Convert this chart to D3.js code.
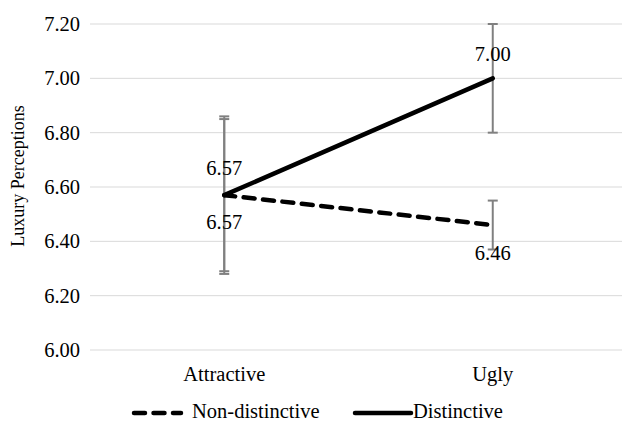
<!DOCTYPE html>
<html>
<head>
<meta charset="utf-8">
<script src="https://cdn.jsdelivr.net/npm/d3@7/dist/d3.min.js"></script>
<style>
  html, body { margin: 0; padding: 0; background: #fff; }
</style>
</head>
<body>
<svg id="chart" width="622" height="423"></svg>
<script>
// Category labels on the x axis
const categories = ["Attractive", "Ugly"];
// Mean luxury perceptions per series
const nonDistinctive = [6.57, 6.46];
const distinctive = [6.57, 7.00];
// Error bar half-widths per series
const nonDistinctiveErr = [0.28, 0.09];
const distinctiveErr = [0.29, 0.20];
// Y axis ticks
const yTicks = [6.0, 6.2, 6.4, 6.6, 6.8, 7.0, 7.2];

const FONT = "'Liberation Serif'";
const FS = 20.5;

// Label baseline offsets from each point (above for Distinctive, below for Non-distinctive)
const series = [
  { name: "Non-distinctive", values: nonDistinctive, err: nonDistinctiveErr, dash: "11,8.5", labelDy: [34, 35] },
  { name: "Distinctive", values: distinctive, err: distinctiveErr, dash: null, labelDy: [-20, -17] }
];

const svg = d3.select("#chart");
svg.append("rect").attr("width", 622).attr("height", 423).attr("fill", "#fff");

const x = d3.scaleBand().domain(categories).range([90, 627]).padding(0);
const y = d3.scaleLinear().domain([6.0, 7.2]).range([350, 24]);
const cx = c => x(c) + x.bandwidth() / 2;

// Horizontal gridlines
svg.append("g").selectAll("line").data(yTicks).join("line")
  .attr("x1", 90).attr("x2", 627)
  .attr("y1", d => y(d)).attr("y2", d => y(d))
  .attr("stroke", "#d9d9d9").attr("stroke-width", 1);

// Y axis tick labels
const yAxis = d3.axisLeft(y).tickValues(yTicks).tickFormat(d3.format(".2f")).tickSize(0).tickPadding(10);
const ya = svg.append("g").attr("transform", "translate(90,0)").call(yAxis)
  .attr("font-family", FONT).attr("font-size", FS);
ya.select(".domain").remove();
ya.selectAll("text").attr("font-family", FONT).attr("font-size", FS).attr("fill", "#000");

// X axis category labels
const xAxis = d3.axisBottom(x).tickSize(0);
const xa = svg.append("g").attr("transform", "translate(0,350)").call(xAxis)
  .attr("font-family", FONT).attr("font-size", FS);
xa.select(".domain").remove();
xa.selectAll("text").attr("font-family", FONT).attr("font-size", FS).attr("fill", "#000")
  .attr("dy", null).attr("y", 31);

// Y axis title
svg.append("text")
  .attr("transform", "translate(24,176) rotate(-90)")
  .attr("text-anchor", "middle")
  .attr("font-family", FONT).attr("font-size", 18).attr("fill", "#000")
  .text("Luxury Perceptions");

// Error bars
series.forEach(s => {
  const g = svg.append("g");
  categories.forEach((c, i) => {
    const v = s.values[i], e = s.err[i], px = cx(c);
    g.append("line").attr("x1", px).attr("x2", px)
      .attr("y1", y(v + e)).attr("y2", y(v - e))
      .attr("stroke", "#808080").attr("stroke-width", 2);
    [v + e, v - e].forEach(t => {
      g.append("line").attr("x1", px - 5).attr("x2", px + 5)
        .attr("y1", y(t)).attr("y2", y(t))
        .attr("stroke", "#808080").attr("stroke-width", 2);
    });
  });
});

// Series lines
const line = d3.line().x((d, i) => cx(categories[i])).y(d => y(d));
series.forEach(s => {
  svg.append("path").datum(s.values)
    .attr("d", line)
    .attr("fill", "none").attr("stroke", "#000").attr("stroke-width", 4.5)
    .attr("stroke-linecap", "round").attr("stroke-linejoin", "round")
    .attr("stroke-dasharray", s.dash);
});

// Data labels
series.forEach(s => {
  categories.forEach((c, i) => {
    svg.append("text")
      .attr("x", cx(c)).attr("y", y(s.values[i]) + s.labelDy[i])
      .attr("text-anchor", "middle")
      .attr("font-family", FONT).attr("font-size", FS).attr("fill", "#000")
      .text(d3.format(".2f")(s.values[i]));
  });
});

// Legend
const legend = [
  { name: "Non-distinctive", dash: "11,8.5", x0: 134, x1: 181, tx: 192 },
  { name: "Distinctive", dash: null, x0: 355, x1: 411, tx: 413 }
];
legend.forEach(l => {
  svg.append("line").attr("x1", l.x0).attr("x2", l.x1)
    .attr("y1", 413).attr("y2", 413)
    .attr("stroke", "#000").attr("stroke-width", 4.5)
    .attr("stroke-linecap", "round").attr("stroke-dasharray", l.dash);
  svg.append("text").attr("x", l.tx).attr("y", 418)
    .attr("font-family", FONT).attr("font-size", FS).attr("fill", "#000").text(l.name);
});
</script>
</body>
</html>
